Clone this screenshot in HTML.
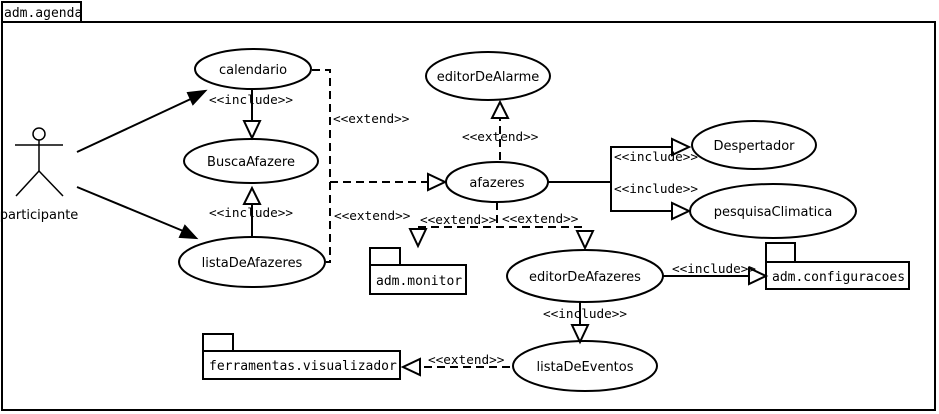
<!DOCTYPE html>
<html><head><style>
html,body{margin:0;padding:0;background:#fff;width:939px;height:414px;overflow:hidden}
svg{display:block}
.s{font-family:"DejaVu Sans Mono","Liberation Mono",monospace;font-size:12.7px}
.p{font-family:"DejaVu Sans Mono","Liberation Mono",monospace;font-size:13px}
.e{font-family:"DejaVu Sans","Liberation Sans",sans-serif;font-size:13px}
</style></head><body>
<svg width="939" height="414" viewBox="0 0 939 414" xmlns="http://www.w3.org/2000/svg" fill="none" stroke="#000" stroke-width="2">
<rect x="2" y="22" width="933" height="388"/>
<rect x="2" y="2" width="79" height="20"/>
<text x="4" y="17" class="p" fill="#000" stroke="none">adm.agenda</text>

<!-- actor -->
<circle cx="39" cy="134" r="6" stroke-width="1.5"/>
<g stroke-width="1.5">
<line x1="39" y1="140" x2="39" y2="171"/>
<line x1="15" y1="145" x2="63" y2="145"/>
<line x1="39" y1="171" x2="16" y2="196"/>
<line x1="39" y1="171" x2="63" y2="196"/>
</g>
<text x="39" y="219" text-anchor="middle" class="e" fill="#000" stroke="none">participante</text>

<!-- actor arrows -->
<line x1="77" y1="152" x2="195" y2="97"/>
<polygon points="205,91 188,93 193,104" fill="#000"/>
<line x1="77" y1="187" x2="188" y2="233"/>
<polygon points="196,238 185,226 180,237" fill="#000"/>

<!-- ellipses -->
<g fill="#fff">
<ellipse cx="253" cy="69" rx="58" ry="20"/>
<ellipse cx="251" cy="161" rx="67" ry="22"/>
<ellipse cx="252" cy="262" rx="73" ry="25"/>
<ellipse cx="488" cy="76" rx="62" ry="24"/>
<ellipse cx="497" cy="182" rx="51" ry="20"/>
<ellipse cx="754" cy="145" rx="62" ry="24"/>
<ellipse cx="773" cy="211" rx="83" ry="27"/>
<ellipse cx="585" cy="276" rx="78" ry="26"/>
<ellipse cx="585" cy="366" rx="72" ry="25"/>
</g>
<g class="e" fill="#000" stroke="none" text-anchor="middle">
<text x="253" y="74">calendario</text>
<text x="251" y="166">BuscaAfazere</text>
<text x="252" y="267">listaDeAfazeres</text>
<text x="488" y="81">editorDeAlarme</text>
<text x="497" y="187">afazeres</text>
<text x="754" y="150">Despertador</text>
<text x="773" y="216">pesquisaClimatica</text>
<text x="585" y="281">editorDeAfazeres</text>
<text x="585" y="371">listaDeEventos</text>
</g>

<!-- includes to BuscaAfazere -->
<line x1="252" y1="89" x2="252" y2="121"/>
<polygon points="244,121 260,121 252,138" fill="#fff"/>
<line x1="252" y1="237" x2="252" y2="204"/>
<polygon points="244,204 260,204 252,188" fill="#fff"/>

<!-- extend dashed lines -->
<g stroke-dasharray="8,5">
<polyline points="312,70 330,70 330,262 326,262"/>
<line x1="330" y1="182" x2="428" y2="182"/>
<line x1="500" y1="160" x2="500" y2="118"/>
<line x1="497" y1="202" x2="497" y2="227"/>
<line x1="418" y1="227" x2="585" y2="227"/>
<line x1="510" y1="367" x2="420" y2="367"/>
</g>
<polygon points="428,174 428,190 445,182" fill="#fff"/>
<polygon points="492,118 508,118 500,102" fill="#fff"/>
<polygon points="410,229 426,229 418,246" fill="#fff"/>
<polygon points="577,231 593,231 585,248" fill="#fff"/>
<polygon points="420,359 420,375 403,367" fill="#fff"/>

<!-- afazeres includes -->
<polyline points="548,182 611,182"/>
<polyline points="672,147 611,147 611,211 672,211"/>
<polygon points="672,139 672,155 689,147" fill="#fff"/>
<polygon points="672,203 672,219 689,211" fill="#fff"/>

<!-- editorDeAfazeres -->
<line x1="663" y1="276" x2="749" y2="276"/>
<polygon points="749,268 749,284 766,276" fill="#fff"/>
<line x1="580" y1="302" x2="580" y2="325"/>
<polygon points="572,325 588,325 580,342" fill="#fff"/>

<!-- packages -->
<rect x="370" y="248" width="30" height="17"/>
<rect x="370" y="265" width="96" height="29"/>
<text x="376" y="285" class="p" fill="#000" stroke="none">adm.monitor</text>
<rect x="766" y="243" width="29" height="19"/>
<rect x="766" y="262" width="143" height="27"/>
<text x="772" y="281" class="p" fill="#000" stroke="none">adm.configuracoes</text>
<rect x="203" y="334" width="30" height="17"/>
<rect x="203" y="351" width="197" height="28"/>
<text x="209" y="370" class="p" fill="#000" stroke="none">ferramentas.visualizador</text>

<!-- labels -->
<g class="s" fill="#000" stroke="none">
<text x="209" y="104">&lt;&lt;include&gt;&gt;</text>
<text x="209" y="217">&lt;&lt;include&gt;&gt;</text>
<text x="333" y="123">&lt;&lt;extend&gt;&gt;</text>
<text x="334" y="220">&lt;&lt;extend&gt;&gt;</text>
<text x="462" y="141">&lt;&lt;extend&gt;&gt;</text>
<text x="420" y="224">&lt;&lt;extend&gt;&gt;</text>
<text x="502" y="223">&lt;&lt;extend&gt;&gt;</text>
<text x="614" y="161">&lt;&lt;include&gt;&gt;</text>
<text x="614" y="193">&lt;&lt;include&gt;&gt;</text>
<text x="672" y="273">&lt;&lt;include&gt;&gt;</text>
<text x="543" y="318">&lt;&lt;include&gt;&gt;</text>
<text x="428" y="364">&lt;&lt;extend&gt;&gt;</text>
</g>
</svg>
</body></html>
